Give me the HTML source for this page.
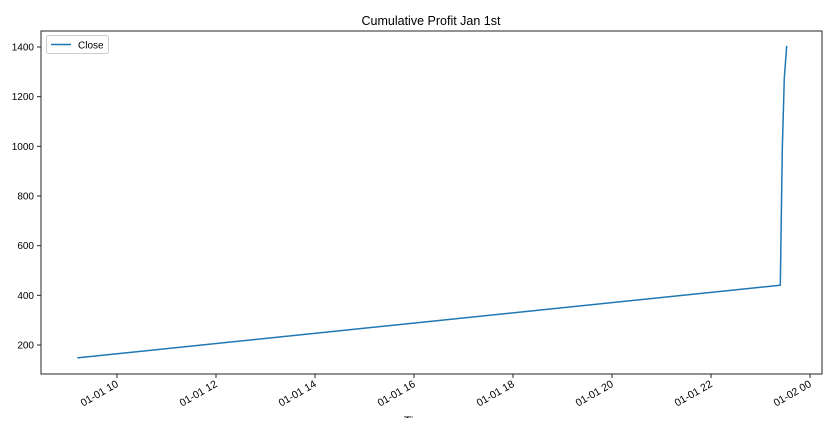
<!DOCTYPE html>
<html><head><meta charset="utf-8"><style>
body{margin:0;background:#fff;width:833px;height:418px;overflow:hidden;font-family:"Liberation Sans","DejaVu Sans",sans-serif}
</style></head><body>
<svg id="chart" width="833" height="418" xmlns="http://www.w3.org/2000/svg">
<text x="431" y="25" text-anchor="middle" font-size="12.5" fill="#000">Cumulative Profit Jan 1st</text>
<g id="plot"></g>
<rect x="41" y="31" width="781" height="343" fill="none" stroke="#262626" stroke-width="1"/>
<g>
<rect x="46.5" y="35.5" width="62" height="18" rx="2" fill="#fff" stroke="#ccc"/>
<line x1="51" y1="44.5" x2="71" y2="44.5" stroke="#1f77b4" stroke-width="1.5"/>
<text x="78" y="48.5" font-size="10" fill="#000">Close</text>
</g>
<text x="417" y="425" text-anchor="middle" font-size="12" fill="#000">Time</text>
</svg>
<script>
const xHours=[9.2,23.4,23.44,23.48,23.53];
const closeValues=[148,441,990,1275,1405];
const xTickHours=[10,12,14,16,18,20,22,24];
const xTickLabels=["01-01 10","01-01 12","01-01 14","01-01 16","01-01 18","01-01 20","01-01 22","01-02 00"];
const yTicks=[200,400,600,800,1000,1200,1400];
const NS="http://www.w3.org/2000/svg";
const g=document.getElementById('plot');
function xs(h){return 117+(h-10)*49.5;}
function ys(v){return 345-(v-200)*0.24833;}
function mk(t,a){const e=document.createElementNS(NS,t);for(const k in a)e.setAttribute(k,a[k]);g.appendChild(e);return e;}
yTicks.forEach(v=>{
  const y=ys(v);
  const l=mk('line',{x1:37,x2:41,y1:y,y2:y,stroke:'#262626'});
  
  
  const t=mk('text',{x:34,y:y+3.5,'text-anchor':'end','font-size':'10',fill:'#000'});
  t.textContent=v;
  
  
});
xTickHours.forEach((h,i)=>{
  const x=xs(h);
  const l=mk('line',{x1:x,x2:x,y1:374,y2:378,stroke:'#262626'});
  
  
  const t=mk('text',{x:x+2,y:386,'text-anchor':'end','font-size':'10.5',fill:'#000',transform:`rotate(-30 ${x+2} 386)`});
  t.textContent=xTickLabels[i];
  
  
});
const pts=xHours.map((h,i)=>xs(h).toFixed(1)+','+ys(closeValues[i]).toFixed(1)).join(' ');
const line=mk('polyline',{points:pts,fill:'none',stroke:'#1f77b4','stroke-width':1.5,'stroke-linejoin':'round'});


</script>
</body></html>
